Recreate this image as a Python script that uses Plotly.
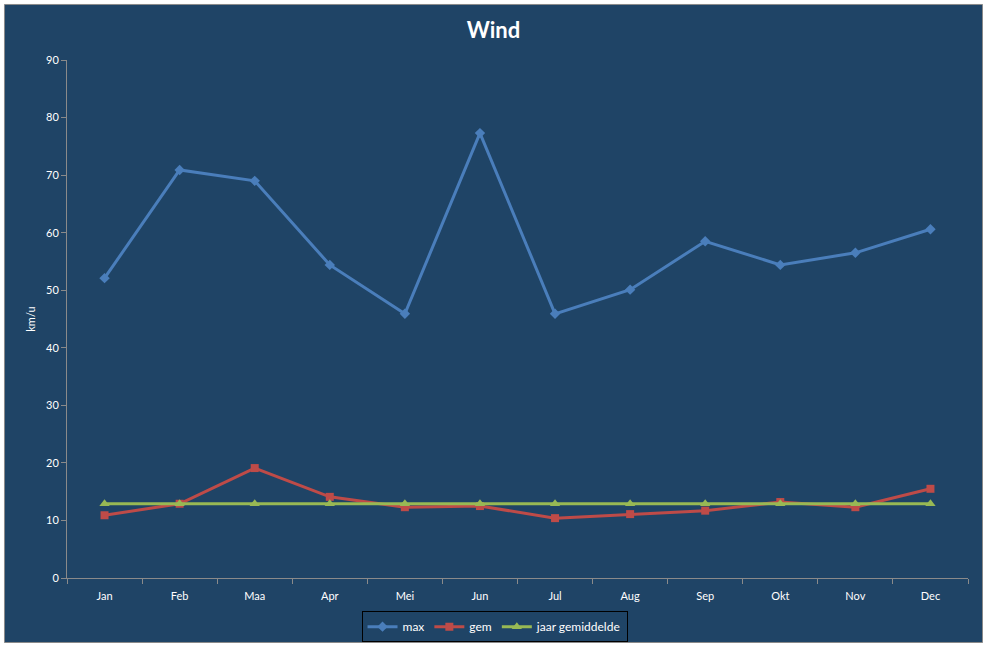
import plotly.graph_objects as go

months = ["Jan", "Feb", "Maa", "Apr", "Mei", "Jun", "Jul", "Aug", "Sep", "Okt", "Nov", "Dec"]
max_vals = [52.1, 70.9, 69.0, 54.4, 45.9, 77.3, 45.9, 50.1, 58.5, 54.4, 56.5, 60.6]
gem_vals = [10.9, 12.9, 19.1, 14.1, 12.3, 12.5, 10.4, 11.1, 11.7, 13.2, 12.3, 15.5]
jaar_vals = [12.9] * 12

BG = "#1F4466"
FONT = "Lato, 'Noto Sans', sans-serif"

fig = go.Figure()
fig.add_trace(go.Scatter(x=months, y=max_vals, name="max", mode="lines+markers",
                         line=dict(color="#4A7EBB", width=3),
                         marker=dict(symbol="diamond", size=8, color="#4A7EBB")))
fig.add_trace(go.Scatter(x=months, y=gem_vals, name="gem", mode="lines+markers",
                         line=dict(color="#BE4B48", width=3),
                         marker=dict(symbol="square", size=8, color="#BE4B48")))
fig.add_trace(go.Scatter(x=months, y=jaar_vals, name="jaar gemiddelde", mode="lines+markers",
                         line=dict(color="#98B954", width=3),
                         marker=dict(symbol="triangle-up", size=9, color="#98B954")))

fig.update_layout(
    width=987, height=648,
    paper_bgcolor="white", plot_bgcolor=BG,
    margin=dict(l=67, r=19, t=60, b=70, autoexpand=False),
    font=dict(family=FONT, color="white", size=11),
    title=dict(text="<b>Wind</b>", x=0.5, xanchor="center", y=0.953, yanchor="middle",
               font=dict(size=22, color="white", family=FONT)),
    showlegend=True,
    legend=dict(orientation="h", x=0.4745, xanchor="center", y=-0.064, yanchor="top",
                bordercolor="black", borderwidth=1, bgcolor=BG,
                font=dict(size=12, color="white", family=FONT)),
    shapes=[dict(type="rect", xref="paper", yref="paper", x0=-0.0694, x1=1.0161, y0=-0.1245, y1=1.1072,
                 line=dict(color="#8a8a8a", width=1), fillcolor=BG, layer="below")],
)
fig.update_xaxes(type="category", range=[-0.5, 11.5], showgrid=False, zeroline=False,
                 showline=True, linecolor="#8a8a8a", linewidth=1,
                 ticks="outside", tickson="boundaries", ticklen=5, tickcolor="#8a8a8a",
                 tickfont=dict(size=11, color="white"), ticklabelstandoff=8)
fig.update_yaxes(range=[0, 90], dtick=10, showgrid=False, zeroline=False,
                 showline=True, linecolor="#8a8a8a", linewidth=1,
                 ticks="outside", ticklen=5, tickcolor="#8a8a8a",
                 tickfont=dict(size=11, color="white"),
                 title=dict(text="km/u", font=dict(size=11, color="white"), standoff=8))

fig.write_html("out.html",
               config={"displayModeBar": False, "responsive": False},
               post_script="document.body.style.margin='0';document.body.style.overflow='hidden';")
